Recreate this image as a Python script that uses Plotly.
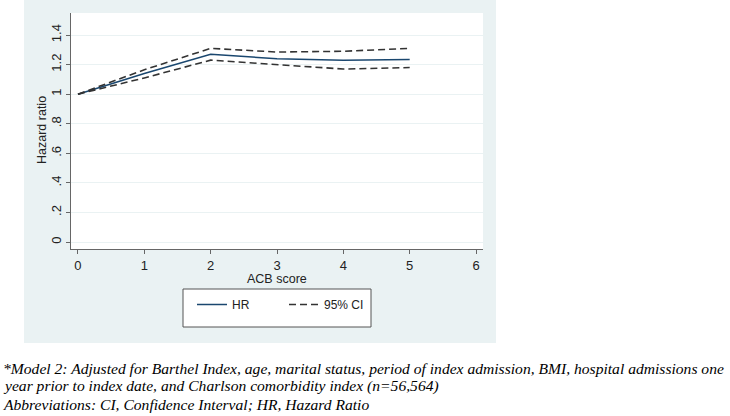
import plotly.graph_objects as go

# Data
acb = [0, 1, 2, 3, 4, 5]
hr = [1.0, 1.14, 1.27, 1.24, 1.23, 1.235]
ci_upper = [1.0, 1.165, 1.31, 1.285, 1.29, 1.31]
ci_lower = [1.0, 1.11, 1.23, 1.20, 1.17, 1.18]

y_ticks = [0, 0.2, 0.4, 0.6, 0.8, 1.0, 1.2, 1.4]
y_ticklabels = ["0", ".2", ".4", ".6", ".8", "1", "1.2", "1.4"]
x_ticks = [0, 1, 2, 3, 4, 5, 6]

x_title = "ACB score"
y_title = "Hazard ratio"
footnotes = [
    "*Model 2: Adjusted for Barthel Index, age, marital status, period of index admission, BMI, hospital admissions one",
    "year prior to index date, and Charlson comorbidity index (n=56,564)",
    "Abbreviations: CI, Confidence Interval; HR, Hazard Ratio",
]

W, H = 730, 416
L, R, T, B = 71, 483, 13, 249  # plot area in px
pw, ph = R - L, B - T

def px_x(x):
    return (x - L) / pw

def px_y(y):
    return (B - y) / ph

PANEL = "#eaf2f3"
SANS = "Liberation Sans, Arial, sans-serif"

fig = go.Figure()
fig.add_trace(go.Scatter(x=acb, y=hr, mode="lines", name="HR",
                         line=dict(color="#1a476f", width=1.5)))
fig.add_trace(go.Scatter(x=acb, y=ci_upper, mode="lines", name="95% CI",
                         line=dict(color="#333333", width=1.6, dash="7px,4px")))
fig.add_trace(go.Scatter(x=acb, y=ci_lower, mode="lines", name="95% CI",
                         showlegend=False,
                         line=dict(color="#333333", width=1.6, dash="7px,4px")))

shapes = [
    dict(type="rect", xref="paper", yref="paper", layer="below",
         x0=px_x(24), x1=px_x(496), y0=px_y(343), y1=px_y(-2),
         fillcolor=PANEL, line=dict(width=0)),
    dict(type="rect", xref="paper", yref="paper", layer="below",
         x0=0, x1=1, y0=0, y1=1, fillcolor="white", line=dict(width=0)),
    dict(type="rect", xref="paper", yref="paper", layer="below",
         x0=px_x(183), x1=px_x(371), y0=px_y(327), y1=px_y(289),
         fillcolor="white", line=dict(color="#555555", width=1)),
]

annotations = [
    dict(text=x_title, xref="paper", yref="paper", x=px_x(277), y=px_y(279),
         xanchor="center", yanchor="middle", showarrow=False,
         font=dict(family=SANS, size=12.5, color="#222222")),
    dict(text=y_title, xref="paper", yref="paper", x=px_x(42), y=px_y(130),
         xanchor="center", yanchor="middle", showarrow=False, textangle=-90,
         font=dict(family=SANS, size=12.5, color="#222222")),
]
for i, t in enumerate(footnotes):
    annotations.append(dict(
        text="<i>" + t + "</i>", xref="paper", yref="paper",
        x=px_x(1), y=px_y(368 + 18 * i), xanchor="left", yanchor="middle",
        showarrow=False,
        font=dict(family="Liberation Serif, Times New Roman, serif", size=15.6, color="black"),
    ))

fig.update_layout(
    width=W, height=H,
    margin=dict(l=L, r=W - R, t=T, b=H - B, pad=0, autoexpand=False),
    paper_bgcolor="white", plot_bgcolor="white",
    font=dict(family=SANS, size=12, color="#222222"),
    showlegend=True,
    legend=dict(orientation="h", x=px_x(192), y=px_y(290), xanchor="left", yanchor="top",
                bgcolor="rgba(0,0,0,0)", borderwidth=0,
                font=dict(family=SANS, size=12, color="#222222"),
                entrywidth=47, tracegroupgap=0),
    shapes=shapes,
    annotations=annotations,
    xaxis=dict(range=[-0.105, 6.105], tickvals=x_ticks, ticks="outside", ticklen=4,
               tickcolor="#666666", showline=True, linecolor="#666666", linewidth=1,
               showgrid=False, zeroline=False, automargin=False,
               tickfont=dict(size=13)),
    yaxis=dict(range=[-0.047, 1.549], tickvals=y_ticks, ticktext=y_ticklabels,
               tickangle=-90, ticks="outside", ticklen=4, tickcolor="#666666",
               showline=True, linecolor="#666666", linewidth=1,
               showgrid=True, gridcolor=PANEL, gridwidth=1, zeroline=False,
               automargin=False,
               tickfont=dict(size=13)),
)

fig.write_html("out.html", config={"displayModeBar": False},
               post_script="document.body.style.margin='0';document.body.style.overflow='hidden';")
